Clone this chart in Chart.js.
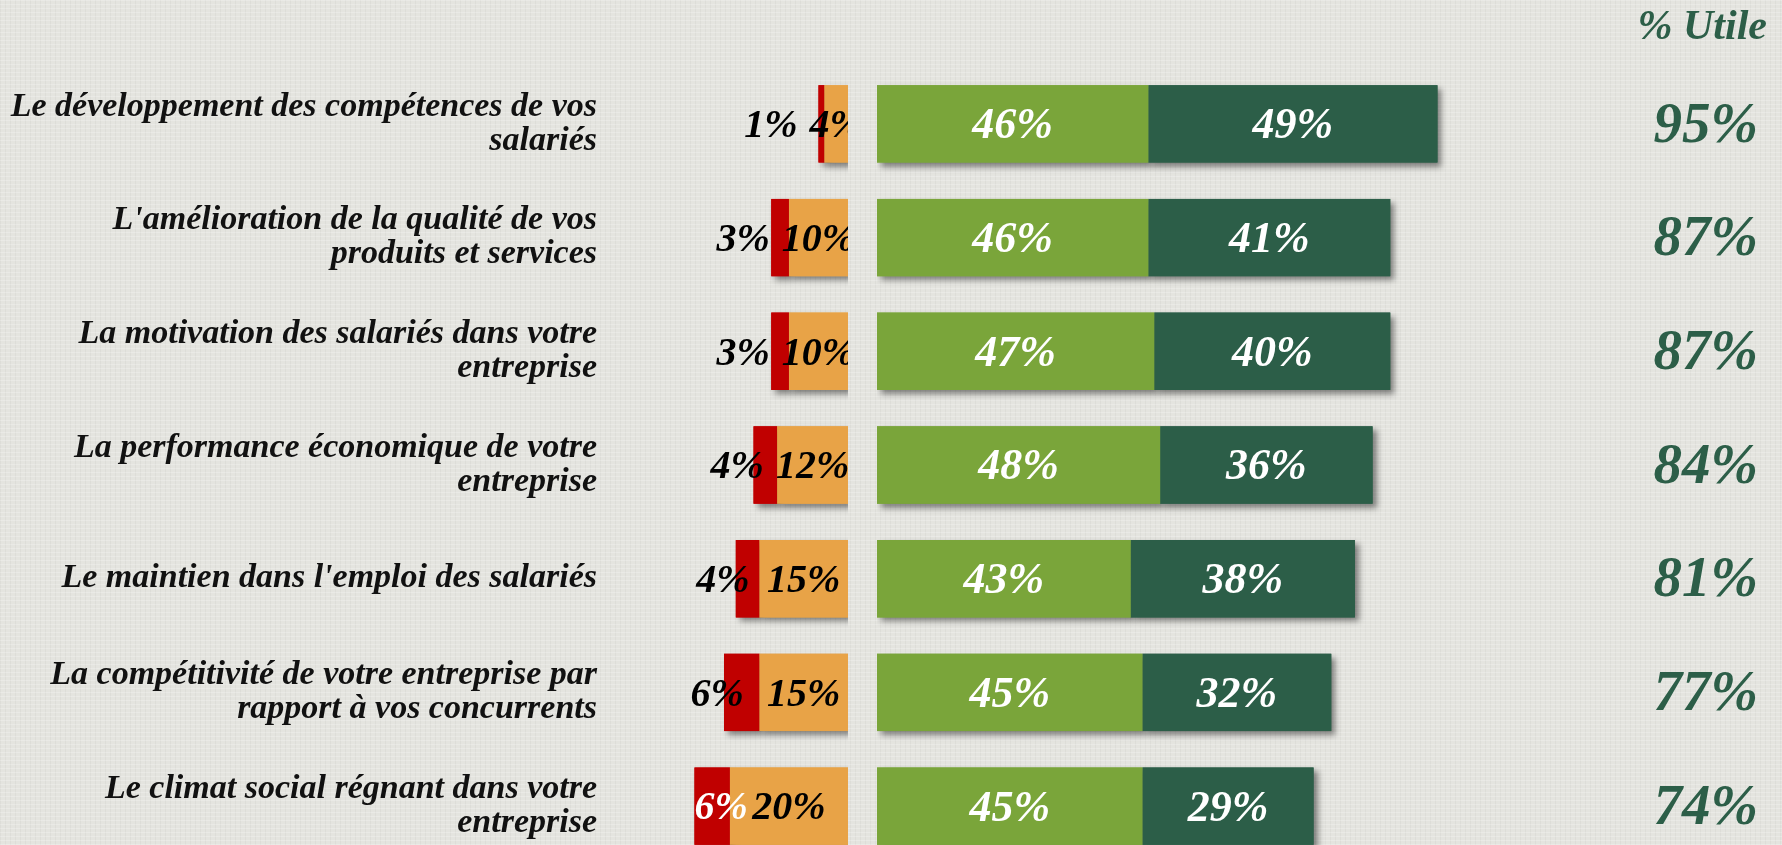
<!DOCTYPE html>
<html>
<head>
<meta charset="utf-8">
<script src="https://cdn.jsdelivr.net/npm/chart.js@4.4.1/dist/chart.umd.min.js"></script>
<style>
  html, body { margin: 0; padding: 0; width: 1782px; height: 845px; overflow: hidden; }
  body {
    position: relative;
    background-color: #e4e4df;
    background-image:
      repeating-linear-gradient(0deg, rgba(255,255,255,0.22) 0 1px, transparent 1px 4px),
      repeating-linear-gradient(90deg, rgba(0,0,0,0.03) 0 1px, transparent 1px 5px);
  }
  canvas { position: absolute; top: 0; }
  #left { left: 0; }
  #right { left: 877px; }
</style>
</head>
<body>
<canvas id="left" width="848" height="863"></canvas>
<canvas id="right" width="905" height="863"></canvas>
<script>
const categories = [
  ["Le développement des compétences de vos", "salariés"],
  ["L'amélioration de la qualité de vos", "produits et services"],
  ["La motivation des salariés dans votre", "entreprise"],
  ["La performance économique de votre", "entreprise"],
  "Le maintien dans l'emploi des salariés",
  ["La compétitivité de votre entreprise par", "rapport à vos concurrents"],
  ["Le climat social régnant dans votre", "entreprise"]
];
const pasDuTout = [1, 3, 3, 4, 4, 6, 6];
const plutotPas = [4, 10, 10, 12, 15, 15, 20];
const plutotUtile = [46, 46, 47, 48, 43, 45, 45];
const tresUtile = [49, 41, 40, 36, 38, 32, 29];
const utile = [95, 87, 87, 84, 81, 77, 74];

// label of the last red bar sits inside it, in white
const redLabelWhite = [false, false, false, false, false, false, true];

const RED = "#c00000";
const ORANGE = "#e8a347";
const GREEN = "#7aa53a";
const DARK = "#2c5e48";

const font = size => `italic bold ${size}px "Liberation Serif", serif`;

const barShadow = {
  id: "barShadow",
  beforeDatasetsDraw(chart) {
    const ctx = chart.ctx;
    ctx.save();
    ctx.shadowColor = "rgba(0,0,0,0.45)";
    ctx.shadowBlur = 6;
    ctx.shadowOffsetX = 4;
    ctx.shadowOffsetY = 4;
    chart.data.datasets.forEach((ds, di) => {
      chart.getDatasetMeta(di).data.forEach(bar => {
        ctx.fillStyle = ds.backgroundColor;
        ctx.fillRect(Math.min(bar.x, bar.base), bar.y - bar.height / 2,
          Math.abs(bar.x - bar.base), bar.height);
      });
    });
    ctx.restore();
  }
};

const negLabels = {
  id: "negLabels",
  afterDatasetsDraw(chart) {
    const ctx = chart.ctx;
    const orange = chart.getDatasetMeta(0).data;
    const red = chart.getDatasetMeta(1).data;
    ctx.save();
    ctx.font = font(40);
    ctx.textBaseline = "middle";
    orange.forEach((o, i) => {
      const oc = (o.x + o.base) / 2;
      const ot = plutotPas[i] + "%";
      const ow = ctx.measureText(ot).width;
      ctx.fillStyle = "#000";
      ctx.textAlign = "center";
      ctx.fillText(ot, oc, o.y + 3);

      const r = red[i];
      const rLeft = Math.min(r.x, r.base);
      const rc = (r.x + r.base) / 2;
      const rt = pasDuTout[i] + "%";
      if (redLabelWhite[i]) {
        ctx.fillStyle = "#fff";
        ctx.textAlign = "left";
        ctx.fillText(rt, rLeft, r.y + 3);
      } else {
        ctx.fillStyle = "#000";
        ctx.textAlign = "right";
        ctx.fillText(rt, Math.min(rc + 2, oc - ow / 2 - 12), r.y + 3);
      }
    });
    ctx.restore();
  }
};

const posLabels = {
  id: "posLabels",
  afterDatasetsDraw(chart) {
    const ctx = chart.ctx;
    ctx.save();
    ctx.font = font(44);
    ctx.textBaseline = "middle";
    ctx.textAlign = "center";
    ctx.fillStyle = "#fff";
    [plutotUtile, tresUtile].forEach((vals, di) => {
      chart.getDatasetMeta(di).data.forEach((bar, i) => {
        ctx.fillText(vals[i] + "%", (bar.x + bar.base) / 2, bar.y + 3);
      });
    });

    // % Utile column
    ctx.fillStyle = DARK;
    ctx.textAlign = "right";
    ctx.font = font(42);
    ctx.fillText("% Utile", 890, 28);
    ctx.font = font(57);
    chart.getDatasetMeta(0).data.forEach((bar, i) => {
      ctx.fillText(utile[i] + "%", 881, bar.y + 3);
    });
    ctx.restore();
  }
};

const common = {
  indexAxis: "y",
  responsive: false,
  animation: false,
  layout: { padding: { top: 67, bottom: 0, left: 0, right: 0 } },
  plugins: { legend: { display: false }, tooltip: { enabled: false } }
};

new Chart(document.getElementById("left"), {
  type: "bar",
  data: {
    labels: categories,
    datasets: [
      { label: "Plutôt pas utile", data: plutotPas, backgroundColor: ORANGE,
        categoryPercentage: 1, barPercentage: 0.68 },
      { label: "Pas du tout utile", data: pasDuTout, backgroundColor: RED,
        categoryPercentage: 1, barPercentage: 0.68 }
    ]
  },
  options: {
    ...common,
    scales: {
      x: { stacked: true, reverse: true, min: 0, max: 42, display: false },
      y: {
        stacked: true,
        grid: { display: false, drawTicks: false },
        border: { display: false },
        ticks: {
          color: "#111",
          padding: 3,
          font: { family: "Liberation Serif", size: 34, style: "italic", weight: "bold", lineHeight: 1.0 }
        },
        afterFit(axis) {
          axis.width = 600;
          axis.paddingTop = 0;
          axis.paddingBottom = 0;
        }
      }
    }
  },
  plugins: [barShadow, negLabels]
});

new Chart(document.getElementById("right"), {
  type: "bar",
  data: {
    labels: categories,
    datasets: [
      { label: "Plutôt utile", data: plutotUtile, backgroundColor: GREEN,
        categoryPercentage: 1, barPercentage: 0.68 },
      { label: "Très utile", data: tresUtile, backgroundColor: DARK,
        categoryPercentage: 1, barPercentage: 0.68 }
    ]
  },
  options: {
    ...common,
    scales: {
      x: { stacked: true, min: 0, max: 153.4, display: false },
      y: { stacked: true, display: false }
    }
  },
  plugins: [barShadow, posLabels]
});
</script>
</body>
</html>
